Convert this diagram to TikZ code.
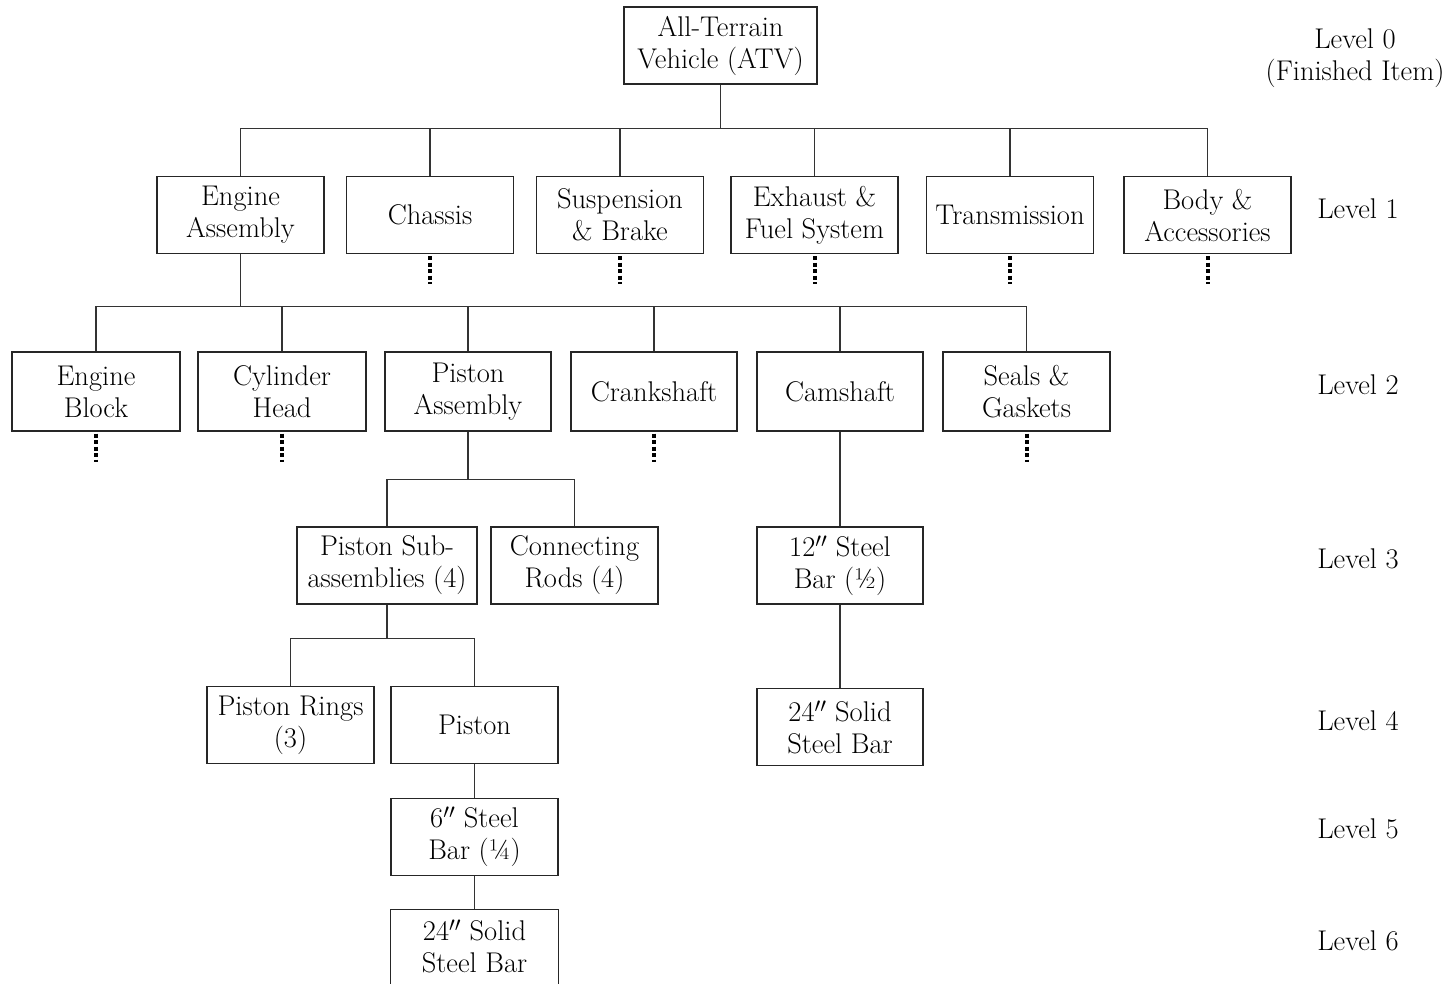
\documentclass[tikz,border=0pt]{standalone}
\usepackage{fontspec}
\begin{document}
\begin{tikzpicture}[x=1pt,y=-1pt,
  box/.style={draw=black!85, line width=1.2pt, minimum width=167pt, minimum height=77pt, align=center, inner sep=0pt, font=\fontsize{28.5}{32}\selectfont},
  boxline/.style={draw=black!85, line width=1.2pt},
  conn/.style={draw=black!80, line width=1.2pt},
  dotline/.style={draw=black, line width=4pt, dash pattern=on 4pt off 2.5pt},
  lvl/.style={align=center, inner sep=0pt, font=\fontsize{28.5}{32}\selectfont}]
\clip (0,0) rectangle (1455,983);
\fill[white] (0,0) rectangle (1455,983);
% Level 0
\node[box, minimum width=193pt] (atv) at (720.5,45.5) {All-Terrain\\Vehicle (ATV)};
% Level 1
\node[box] (ea) at (240.5,215) {Engine\\Assembly};
\node[box] (ch) at (430,215) {Chassis};
\node[box] (sb) at (620,215) {Suspension\\\& Brake};
\node[box] (ef) at (814.5,215) {Exhaust \&\\Fuel System};
\node[box] (tr) at (1010,215) {Transmission};
\node[box] (ba) at (1207.5,215) {Body \&\\Accessories};
% Level 2
\node[box, minimum width=168pt, minimum height=79pt] (eb) at (96,391.5) {Engine\\Block};
\node[box, minimum width=168pt, minimum height=79pt] (cy) at (282,391.5) {Cylinder\\Head};
\node[box, minimum width=166pt, minimum height=79pt] (pa) at (468,391.5) {Piston\\Assembly};
\node[box, minimum width=166pt, minimum height=79pt] (cr) at (654,391.5) {Crankshaft};
\node[box, minimum width=166pt, minimum height=79pt] (cm) at (840,391.5) {Camshaft};
\node[box, minimum width=167pt, minimum height=79pt] (sg) at (1026.5,391.5) {Seals \&\\Gaskets};
% Level 3
\node[box, minimum width=180pt] (ps) at (387,565.5) {Piston Sub-\\assemblies (4)};
\node[box] (ro) at (574.5,565.5) {Connecting\\Rods (4)};
\node[box, minimum width=166pt] (sb12) at (840,565.5) {12$''$ Steel\\Bar (½)};
% Level 4
\node[box] (pr) at (290.5,725) {Piston Rings\\(3)};
\node[box] (pi) at (474.5,725) {Piston};
\node[box, minimum width=166pt] (sol24a) at (840,727) {24$''$ Solid\\Steel Bar};
% Level 5
\node[box] (sb6) at (474.5,837) {6$''$ Steel\\Bar (¼)};
% Level 6 (box runs past the bottom edge)
\node[box, draw=none, minimum height=72pt] (sol24b) at (474.5,946) {24$''$ Solid\\Steel Bar};
\draw[boxline] ([yshift=-20pt]sol24b.south west) rectangle (sol24b.north east);
% Level labels
\node[lvl] (l0) at (1355,58) {Level 0\\(Finished Item)};
\node[lvl] (l1) at (1358,209) {Level 1};
\node[lvl] (l2) at (1358,385) {Level 2};
\node[lvl] (l3) at (1358,559) {Level 3};
\node[lvl] (l4) at (1358,721) {Level 4};
\node[lvl] (l5) at (1358,829) {Level 5};
\node[lvl] (l6) at (1358,941) {Level 6};
% Connectors level 0 -> 1
\foreach \c in {ea,ch,sb,ef,tr,ba}
  \draw[conn] (atv.south) -- ++(0,44) -| (\c.north);
% level 1 -> 2
\foreach \c in {eb,cy,pa,cr,cm,sg}
  \draw[conn] (ea.south) -- ++(0,52) -| (\c.north);
% level 2 -> 3
\foreach \c in {ps,ro}
  \draw[conn] (pa.south) -- ++(0,48) -| (\c.north);
\draw[conn] (cm.south) -- (sb12.north);
% level 3 -> 4
\foreach \c in {pr,pi}
  \draw[conn] (ps.south) -- ++(0,34) -| (\c.north);
\draw[conn] (sb12.south) -- (sol24a.north);
% level 4 -> 5 -> 6
\draw[conn] (pi.south) -- (sb6.north);
\draw[conn] (sb6.south) -- (sol24b.north);
% dotted continuations
\foreach \c in {ch,sb,ef,tr,ba,eb,cy,cr,sg}
  \draw[dotline] (\c.south) ++(0,2) -- ++(0,28);
\end{tikzpicture}
\end{document}
